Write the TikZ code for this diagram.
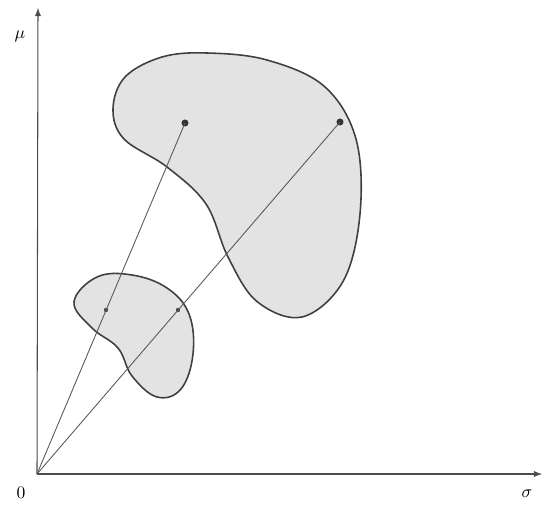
\documentclass[tikz,border=0pt]{standalone}
\usepackage{tikz}
\tikzset{
  blob/.style={draw=black!75, line width=0.9pt, fill=gray!22},
  ray/.style={draw=black!65, line width=0.5pt},
  dot/.style={circle, fill=black!80, inner sep=0pt, minimum size=4pt},
  smalldot/.style={circle, fill=black!70, inner sep=0pt, minimum size=2.5pt}
}
\begin{document}
\begin{tikzpicture}[>=latex]
  \useasboundingbox (-0.74,-0.70) rectangle (10.14,9.48);
  % axes
  \coordinate (O) at (0,0);
  \coordinate (xend) at (10.1,0);
  \coordinate (yend) at (0.02,9.32);
  \draw[->, black!70, line width=0.6pt] (O) -- (xend);
  \draw[->, black!70, line width=0.6pt] (O) -- (yend);
  \node (mu) at (-0.34,8.76) {$\mu$};
  \node (zero) at (-0.32,-0.38) {$0$};
  \node (sigma) at (9.8,-0.40) {$\sigma$};
  % large set
  \draw[blob] plot[smooth cycle, tension=0.6] coordinates {
    (1.52,7.3) (1.76,7.94) (2.5,8.34) (3.4,8.42) (4.6,8.28) (5.75,7.75)
    (6.38,6.7) (6.46,5.2) (6.12,3.85) (5.3,3.14) (4.4,3.45) (3.82,4.34)
    (3.38,5.4) (2.6,6.14) (1.74,6.7)};
  % small set
  \draw[blob] plot[smooth cycle, tension=0.65] coordinates {
    (0.74,3.44) (1.2,3.94) (1.9,3.98) (2.6,3.72) (3.04,3.2) (3.12,2.4)
    (2.88,1.7) (2.4,1.54) (1.9,1.96) (1.62,2.52) (1.1,2.92)};
  % points and rays
  \node[dot] (p1) at (2.96,7.02) {};
  \node[dot] (p2) at (6.06,7.04) {};
  \node[smalldot] (q1) at (1.38,3.28) {};
  \node[smalldot] (q2) at (2.82,3.28) {};
  \draw[ray] (O) -- (p1.center);
  \draw[ray] (O) -- (p2.center);
\end{tikzpicture}
\end{document}
